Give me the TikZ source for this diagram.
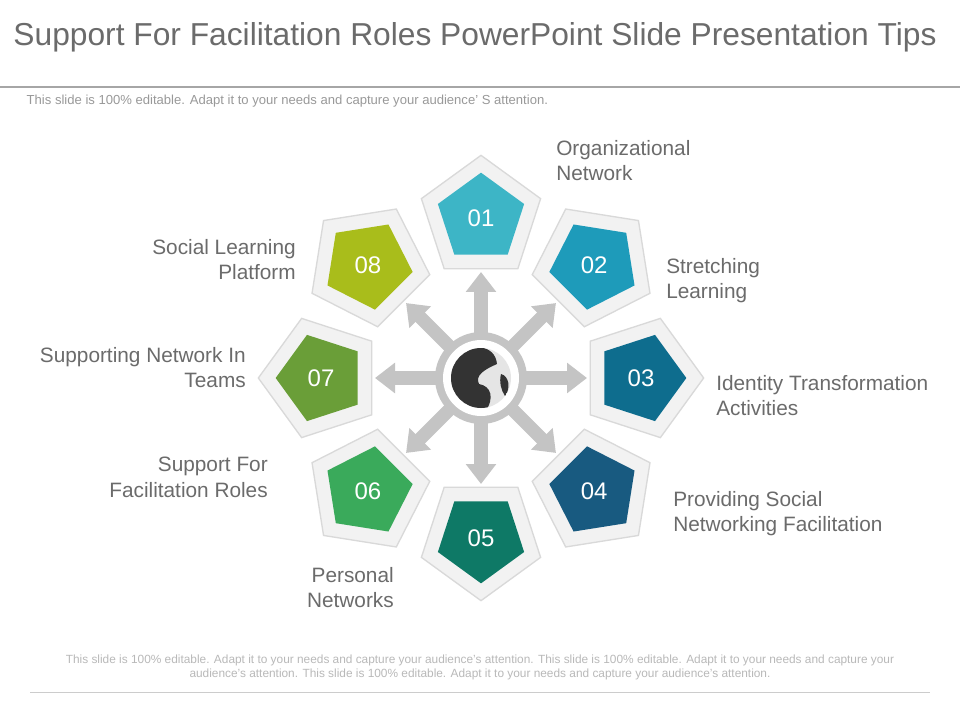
\documentclass[tikz,border=0pt]{standalone}
\usepackage{fontspec}
\setmainfont{Liberation Sans}
\usetikzlibrary{shapes.geometric,arrows.meta,calc}
\definecolor{txtgray}{HTML}{6B6B6B}
\definecolor{ringgray}{HTML}{C4C4C4}
\definecolor{cA}{HTML}{3DB5C6}
\definecolor{cB}{HTML}{1E9BBA}
\definecolor{cC}{HTML}{0E6D8E}
\definecolor{cD}{HTML}{185A80}
\definecolor{cE}{HTML}{0E7966}
\definecolor{cF}{HTML}{3AAA5B}
\definecolor{cG}{HTML}{6A9E38}
\definecolor{cH}{HTML}{A9BD1B}
\tikzset{
  outerpent/.style={regular polygon,regular polygon sides=5,minimum size=94pt,
    fill=gray!10,draw=gray!30,line width=1pt,inner sep=0pt},
  innerpent/.style={regular polygon,regular polygon sides=5,minimum size=68pt,
    inner sep=0pt,text=white,font=\fontsize{18}{18}\selectfont},
  lbl/.style={text=txtgray,font=\fontsize{15.6}{19}\selectfont,inner sep=0pt},
  spoke/.style={ringgray,line width=10pt,-{Triangle[length=15pt,width=22pt]}}
}
\begin{document}
\begin{tikzpicture}[x=0.75pt,y=-0.75pt]
  \fill[white] (0,0) rectangle (960,720);
  \useasboundingbox (0,0) rectangle (960,720);

  % title and rules
  \node[text=txtgray,font=\fontsize{23.8}{24}\selectfont] (title) at (475,37) {Support For Facilitation Roles PowerPoint Slide Presentation Tips};
  \draw[gray!70,line width=2pt] (0,87) -- (960,87);
  \node[anchor=west,text=gray!80,font=\fontsize{9.8}{10}\selectfont] (sub) at (22,101) {This slide is 100\% editable. Adapt it to your needs and capture your audience’ S attention.};

  % centre
  \coordinate (c) at (481,378);
  \foreach \a in {0,45,...,315}
    \draw[spoke] ($(c)+(-\a:40)$) -- ($(c)+(-\a:106)$);
  \fill[ringgray] (c) circle (46);
  \fill[white] (c) circle (38);
  \fill[gray!20] (c) circle (30);
  \begin{scope}
    \clip (c) circle (30);
    \fill[black!80] ($(c)+(-32,-20)$) .. controls ($(c)+(-10,-36)$) and ($(c)+(14,-34)$) .. ($(c)+(16,-14)$)
      .. controls ($(c)+(2,-8)$) and ($(c)+(-6,-2)$) .. ($(c)+(-2,6)$)
      .. controls ($(c)+(10,8)$) and ($(c)+(14,20)$) .. ($(c)+(4,34)$)
      .. controls ($(c)+(-20,36)$) and ($(c)+(-36,10)$) .. cycle;
    \fill[black!80] ($(c)+(20,-4)$) .. controls ($(c)+(28,-2)$) and ($(c)+(30,10)$) .. ($(c)+(24,18)$)
      .. controls ($(c)+(20,12)$) and ($(c)+(18,4)$) .. cycle;
  \end{scope}

  % pentagons
  \foreach \k/\col/\num in {1/cA/01,2/cB/02,3/cC/03,4/cD/04,5/cE/05,6/cF/06,7/cG/07,8/cH/08}{
    \pgfmathsetmacro{\ang}{90-45*(\k-1)}
    \node[outerpent,shape border rotate=\ang-90] (o\k) at ($(c)+(-\ang:160)$) {};
    \node[innerpent,fill=\col,shape border rotate=\ang-90] (p\k) at (o\k) {\num};
  }

  % labels
  \node[lbl,anchor=north west,align=left] (l1) at (556,140) {Organizational\\Network};
  \node[lbl,anchor=north west,align=left] (l2) at (666,258) {Stretching\\Learning};
  \node[lbl,anchor=north west,align=left] (l3) at (716,375) {Identity Transformation\\Activities};
  \node[lbl,anchor=north west,align=left] (l4) at (673,491) {Providing Social\\Networking Facilitation};
  \node[lbl,anchor=north east,align=right] (l5) at (394,567) {Personal\\Networks};
  \node[lbl,anchor=north east,align=right] (l6) at (268,457) {Support For\\Facilitation Roles};
  \node[lbl,anchor=north east,align=right] (l7) at (246,347) {Supporting Network In\\Teams};
  \node[lbl,anchor=north east,align=right] (l8) at (296,239) {Social Learning\\Platform};

  % footer
  \node[text=gray!55,align=center,font=\fontsize{8.9}{10.5}\selectfont] (foot) at (480,667) {This slide is 100\% editable. Adapt it to your needs and capture your audience's attention. This slide is 100\% editable. Adapt it to your needs and capture your\\audience's attention. This slide is 100\% editable. Adapt it to your needs and capture your audience's attention.};
  \draw[gray!40] (30,692) -- (930,692);
\end{tikzpicture}
\end{document}
